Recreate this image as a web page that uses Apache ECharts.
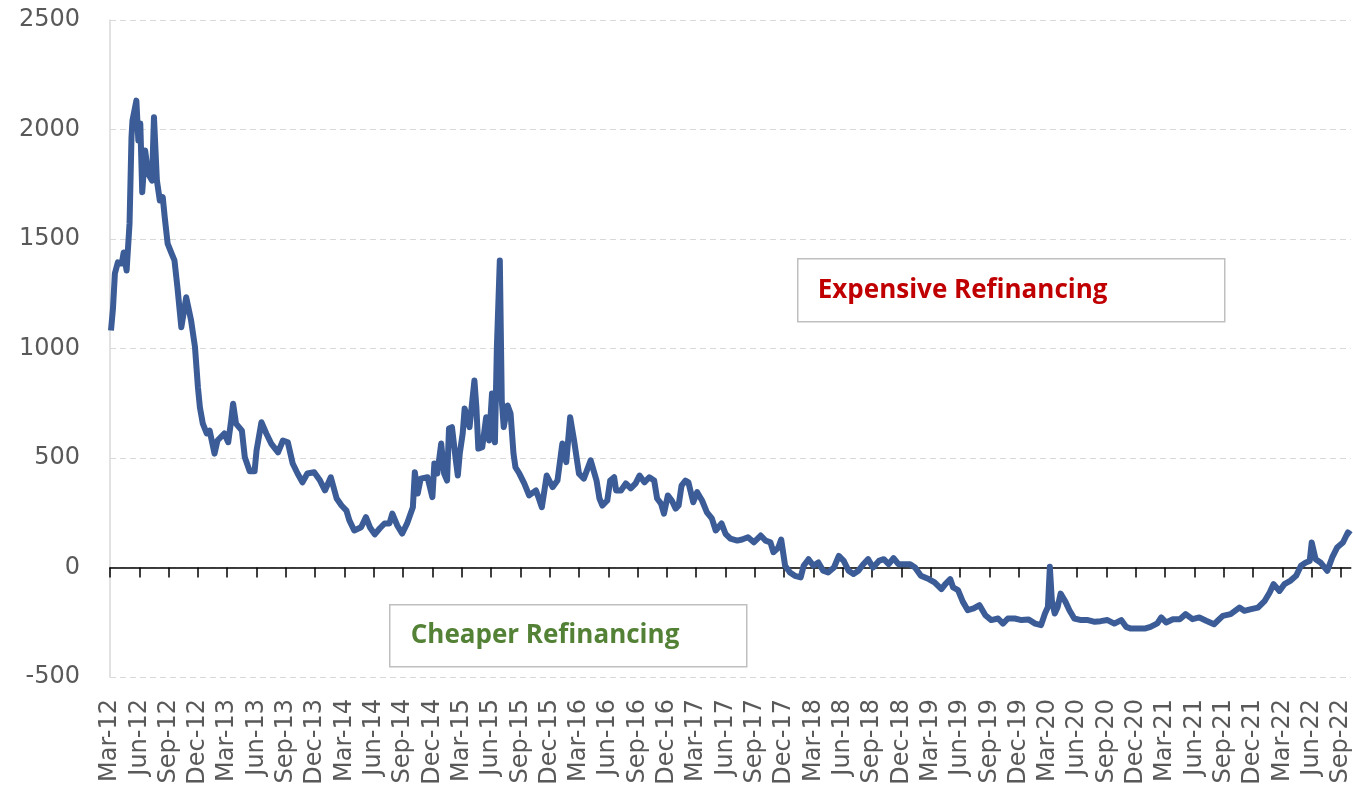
<!DOCTYPE html>
<html>
<head>
<meta charset="utf-8">
<script src="https://cdn.jsdelivr.net/npm/echarts@6/dist/echarts.min.js"></script>
<style>
html,body{margin:0;padding:0;background:#fff;}
#chart{width:1353px;height:792px;}
</style>
</head>
<body>
<div id="chart"></div>
<script>
// x = months after Mar-2012, y = refinancing spread
var months = [
  0.1,0.3,0.5,0.8,1.2,1.4,1.7,2.0,2.2,2.3,2.7,2.9,3.1,3.3,3.6,3.9,4.3,4.5,4.8,5.1,5.4,5.6,5.9,6.3,6.6,6.9,7.3,7.8,8.3,8.7,9.0,9.2,9.5,9.9,
  10.2,10.7,11.0,11.7,12.1,12.4,12.6,12.9,13.5,13.8,14.3,14.8,15.0,15.5,16.0,16.5,17.2,17.7,18.2,18.7,19.2,19.7,20.2,20.9,21.5,
  22.0,22.6,23.2,23.7,24.2,24.5,25.0,25.7,26.2,26.6,27.1,27.6,28.1,28.6,28.9,29.4,29.9,30.4,31.0,31.2,31.5,31.8,32.5,33.0,
  33.2,33.5,33.9,34.2,34.5,34.7,35.0,35.4,35.6,35.8,36.1,36.3,36.8,37.3,37.5,37.7,38.1,38.5,38.8,39.1,39.4,39.6,39.9,40.1,40.3,40.7,41.0,41.3,41.5,41.9,42.4,42.9,43.6,43.9,44.2,44.7,
  45.3,45.8,46.3,46.7,47.1,47.5,48.0,48.5,49.2,49.8,50.1,50.4,50.9,51.2,51.6,51.8,52.3,52.8,53.3,53.8,54.2,54.7,55.2,55.7,56.0,56.4,56.7,
  57.1,57.5,57.9,58.2,58.5,58.9,59.2,59.7,60.1,60.6,61.1,61.6,62.0,62.6,63.0,63.5,64.2,64.7,65.3,65.9,66.6,67.1,67.6,67.9,68.4,68.7,
  69.1,69.6,70.1,70.7,71.0,71.5,72.0,72.5,73.0,73.5,74.1,74.6,75.1,75.6,76.1,76.6,77.1,77.6,78.1,78.7,79.2,79.7,80.2,80.7,
  81.2,81.9,82.4,83.0,83.8,84.4,85.1,85.5,86.0,86.3,86.8,87.3,87.8,88.4,89.0,89.6,90.2,90.9,91.4,91.9,92.6,
  93.3,94.0,94.7,95.3,95.7,96.0,96.2,96.4,96.7,97.0,97.3,97.8,98.2,98.7,99.4,100.1,100.8,101.4,102.1,102.8,103.5,104.0,104.5,
  105.2,105.9,106.5,107.2,107.6,108.1,108.8,109.5,110.1,110.8,111.5,112.2,113.0,113.9,114.7,115.6,116.1,
  116.8,117.5,118.2,118.7,119.1,119.7,120.2,120.8,121.4,121.9,122.4,122.8,123.0,123.4,123.9,124.6,125.1,125.6,126.2,126.7,127.0
];
var spread = [
  1082,1180,1342,1393,1388,1438,1356,1570,1965,2041,2132,1950,2027,1714,1904,1799,1767,2056,1767,1676,1691,1600,1479,1434,1402,1280,1097,1234,1128,1006,823,732,657,612,
  625,520,580,612,572,671,748,657,625,503,440,440,534,663,612,566,526,580,572,475,429,389,429,435,397,
  352,412,315,283,260,215,169,184,230,184,151,178,201,201,246,192,155,200,275,435,338,406,412,321,
  475,429,566,429,397,635,641,489,420,520,612,726,641,854,732,543,549,686,580,794,572,1006,1402,762,641,740,703,520,458,429,384,329,352,315,275,420,
  367,397,566,481,686,580,429,406,489,397,315,283,306,397,412,352,352,384,361,384,420,389,412,397,315,292,246,
  329,306,269,283,374,397,389,298,344,306,252,224,169,201,154,132,123,128,138,115,146,123,115,70,90,128,
  8,-23,-38,-45,8,38,8,23,-15,-23,0,53,30,-15,-30,-15,15,38,0,30,38,15,43,15,
  15,15,0,-38,-53,-68,-99,-76,-53,-91,-103,-157,-195,-187,-172,-218,-240,-233,-256,-233,-233,
  -240,-237,-256,-263,-210,-180,3,-149,-210,-180,-119,-157,-195,-233,-240,-240,-248,-245,-240,-256,-240,-271,-279,
  -279,-279,-271,-255,-228,-251,-236,-236,-213,-236,-228,-243,-259,-221,-213,-183,-198,
  -190,-183,-152,-114,-76,-107,-76,-61,-38,8,23,30,114,38,23,-15,46,91,114,160,150
];
var quarterLabels = [
  'Mar-12','Jun-12','Sep-12','Dec-12','Mar-13','Jun-13','Sep-13','Dec-13',
  'Mar-14','Jun-14','Sep-14','Dec-14','Mar-15','Jun-15','Sep-15','Dec-15',
  'Mar-16','Jun-16','Sep-16','Dec-16','Mar-17','Jun-17','Sep-17','Dec-17',
  'Mar-18','Jun-18','Sep-18','Dec-18','Mar-19','Jun-19','Sep-19','Dec-19',
  'Mar-20','Jun-20','Sep-20','Dec-20','Mar-21','Jun-21','Sep-21','Dec-21',
  'Mar-22','Jun-22','Sep-22'
];
var yTicks = [-500, 0, 500, 1000, 1500, 2000, 2500];

var quarterPos = quarterLabels.map(function(l, i){ return i * 3; });
var lineData = months.map(function(m, i){ return [m, spread[i]]; });
if (months.length !== spread.length) console.log('length mismatch', months.length, spread.length);

var myChart = echarts.init(document.getElementById('chart'), null, {renderer: 'canvas'});

var option = {
  animation: false,
  backgroundColor: '#fff',
  grid: {left: 110, right: 0, top: 20, bottom: 115},
  xAxis: [
    { // axis line sitting on zero, with ticks
      type: 'value', min: 0, max: 127, interval: 3,
      axisLine: {show: true, onZero: true, lineStyle: {color: '#000', width: 1.5}},
      axisTick: {show: true, length: 10, inside: false, customValues: quarterPos, lineStyle: {color: '#000', width: 1.5}},
      axisLabel: {show: false},
      splitLine: {show: false}
    },
    { // labels along the bottom
      type: 'value', min: 0, max: 127, interval: 3, position: 'bottom',
      axisLine: {show: false, onZero: false},
      axisTick: {show: false},
      splitLine: {show: false},
      axisLabel: {
        show: true, rotate: 90, margin: 22,
        customValues: quarterPos,
        color: '#595959', fontSize: 24, fontFamily: 'DejaVu Sans',
        formatter: function(v){ return quarterLabels[Math.round(v / 3)] || ''; }
      }
    }
  ],
  yAxis: {
    type: 'value', min: yTicks[0], max: yTicks[yTicks.length - 1], interval: 500,
    axisLine: {show: true, onZero: false, lineStyle: {color: '#d9d9d9', width: 1.5}},
    axisTick: {show: false},
    axisLabel: {color: '#595959', fontSize: 24, fontFamily: 'DejaVu Sans', margin: 30,
      formatter: function(v){ return String(v); }},
    splitLine: {show: true, lineStyle: {color: '#d9d9d9', type: [6, 4], width: 1.2}}
  },
  series: [{
    type: 'line',
    xAxisIndex: 0,
    data: lineData,
    showSymbol: false,
    lineStyle: {color: '#3b5c96', width: 6, join: 'round'},
    z: 3
  }],
  graphic: [
    {
      type: 'group', left: 797, top: 258,
      children: [
        {type: 'rect', shape: {x: 0, y: 0, width: 427, height: 63},
         style: {fill: '#fff', stroke: '#bfbfbf', lineWidth: 1.5}},
        {type: 'text', x: 20, y: 32,
         style: {text: 'Expensive Refinancing', fill: '#c00000', font: 'bold 26px "Open Sans"', verticalAlign: 'middle'}}
      ]
    },
    {
      type: 'group', left: 389, top: 604,
      children: [
        {type: 'rect', shape: {x: 0, y: 0, width: 357, height: 62},
         style: {fill: '#fff', stroke: '#bfbfbf', lineWidth: 1.5}},
        {type: 'text', x: 21, y: 31,
         style: {text: 'Cheaper Refinancing', fill: '#538135', font: 'bold 26px "Open Sans"', verticalAlign: 'middle'}}
      ]
    }
  ]
};

myChart.setOption(option);
</script>
</body>
</html>
